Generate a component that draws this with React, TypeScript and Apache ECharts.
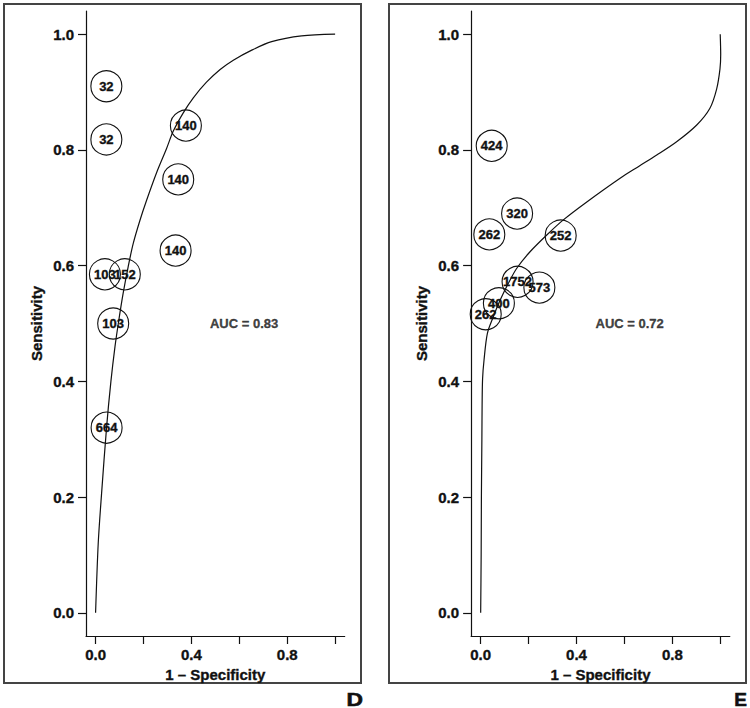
import React, { useEffect, useRef } from "react";
import * as echarts from "echarts";

// ROC curve (1 - specificity, sensitivity), panel D
const curveD: number[][] = [
  [0, 0], [0.011, 0.12], [0.025, 0.206], [0.046, 0.321], [0.064, 0.4], [0.081, 0.46],
  [0.096, 0.503], [0.115, 0.552], [0.136, 0.598], [0.157, 0.638], [0.185, 0.678],
  [0.213, 0.713], [0.255, 0.761], [0.296, 0.802], [0.324, 0.832], [0.366, 0.864],
  [0.408, 0.89], [0.463, 0.917], [0.52, 0.939], [0.575, 0.955], [0.65, 0.972],
  [0.735, 0.987], [0.86, 0.997], [1.0, 1.0],
];
// Study points: [1 - specificity, sensitivity, sample size], panel D
const studiesD: (number | string)[][] = [
  [0.045, 0.91, "32"], [0.045, 0.818, "32"], [0.377, 0.842, "140"], [0.345, 0.749, "140"],
  [0.334, 0.626, "140"], [0.039, 0.585, "103"], [0.122, 0.585, "152"], [0.0735, 0.5, "103"],
  [0.046, 0.32, "664"],
];
const aucD = { x: 0.62, y: 0.5, text: "AUC = 0.83" };

// ROC curve, panel E
const curveE: number[][] = [
  [0, 0], [0.002, 0.1], [0.003, 0.2], [0.005, 0.3], [0.006, 0.36], [0.008, 0.405],
  [0.014, 0.437], [0.028, 0.483], [0.053, 0.512], [0.081, 0.54], [0.115, 0.569],
  [0.15, 0.595], [0.206, 0.624], [0.276, 0.653], [0.345, 0.679], [0.443, 0.71],
  [0.582, 0.751], [0.658, 0.771], [0.735, 0.791], [0.818, 0.814], [0.902, 0.843],
  [0.957, 0.872], [0.985, 0.905], [0.999, 0.94], [1.002, 0.965], [1.0, 1.0],
];
const studiesE: (number | string)[][] = [
  [0.046, 0.807, "424"], [0.152, 0.69, "320"], [0.036, 0.654, "262"], [0.334, 0.652, "252"],
  [0.154, 0.572, "1752"], [0.245, 0.562, "573"], [0.076, 0.535, "400"], [0.021, 0.516, "262"],
];
const aucE = { x: 0.622, y: 0.5, text: "AUC = 0.72" };

const tickValues = [0, 0.2, 0.4, 0.6, 0.8, 1.0];
const xLabelValues = [0, 0.4, 0.8];
const xName = "1 \u2013 Specificity";
const yName = "Sensitivity";
const panelLetters = ["D", "E"];

const FONT = "'Liberation Sans', Arial, Helvetica, sans-serif";
const INK = "#111";
const heavy = { textBorderColor: INK, textBorderWidth: 0.35 };

export default function App() {
  const ref = useRef<HTMLDivElement>(null);
  useEffect(() => {
    if (!ref.current) return;
    const chart = echarts.init(ref.current, null, { renderer: "svg" });

    const grids = [
      { left: 86, top: 11, width: 258.7, height: 625 },
      { left: 471.1, top: 11, width: 258.7, height: 625 },
    ];

    const mkX = (gi: number) => ({
      type: "value",
      gridIndex: gi,
      min: -0.04,
      max: 1.04,
      name: xName,
      nameLocation: "middle",
      nameGap: 28,
      nameTextStyle: { fontFamily: FONT, fontWeight: "bold", fontSize: 15, color: INK, ...heavy },
      axisLine: { show: true, onZero: false, lineStyle: { color: INK, width: 1.2 } },
      axisTick: { show: true, inside: false, length: 8, customValues: tickValues, lineStyle: { color: INK, width: 1.2 } },
      axisLabel: {
        show: true,
        margin: 11,
        customValues: xLabelValues,
        formatter: (v: number) => v.toFixed(1),
        fontFamily: FONT, fontWeight: "bold", fontSize: 15, color: INK, ...heavy,
      },
      splitLine: { show: false },
    });
    const mkY = (gi: number) => ({
      type: "value",
      gridIndex: gi,
      min: -0.04,
      max: 1.04,
      name: yName,
      nameLocation: "middle",
      nameGap: 42,
      nameTextStyle: { fontFamily: FONT, fontWeight: "bold", fontSize: 15, color: INK, ...heavy },
      axisLine: { show: true, onZero: false, lineStyle: { color: INK, width: 1.2 } },
      axisTick: { show: true, inside: false, length: 8, customValues: tickValues, lineStyle: { color: INK, width: 1.2 } },
      axisLabel: {
        show: true,
        margin: 12,
        customValues: tickValues,
        formatter: (v: number) => v.toFixed(1),
        fontFamily: FONT, fontWeight: "bold", fontSize: 15, color: INK, ...heavy,
      },
      splitLine: { show: false },
    });

    const curveSeries = (gi: number, data: number[][]) => ({
      type: "line",
      xAxisIndex: gi,
      yAxisIndex: gi,
      data,
      showSymbol: false,
      symbol: "none",
      smooth: 0.3,
      lineStyle: { color: INK, width: 1.2 },
      silent: true,
      z: 3,
    });
    const studySeries = (gi: number, data: (number | string)[][]) => ({
      type: "scatter",
      xAxisIndex: gi,
      yAxisIndex: gi,
      data,
      symbol: "circle",
      symbolSize: 31,
      itemStyle: { color: "rgba(0,0,0,0)", borderColor: INK, borderWidth: 1.1, opacity: 1 },
      label: {
        show: true,
        position: "inside",
        formatter: (p: any) => String(p.value[2]),
        fontFamily: FONT, fontWeight: "bold", fontSize: 13, color: INK, ...heavy,
      },
      silent: true,
      z: 4,
    });
    const aucSeries = (gi: number, a: { x: number; y: number; text: string }) => ({
      type: "scatter",
      xAxisIndex: gi,
      yAxisIndex: gi,
      data: [[a.x, a.y]],
      symbolSize: 0,
      label: {
        show: true,
        position: "inside",
        formatter: a.text,
        fontFamily: FONT, fontWeight: "bold", fontSize: 13, color: INK, ...heavy,
      },
      silent: true,
    });

    chart.setOption({
      animation: false,
      backgroundColor: "#fff",
      grid: grids,
      xAxis: [mkX(0), mkX(1)],
      yAxis: [mkY(0), mkY(1)],
      series: [
        curveSeries(0, curveD),
        studySeries(0, studiesD),
        aucSeries(0, aucD),
        curveSeries(1, curveE),
        studySeries(1, studiesE),
        aucSeries(1, aucE),
      ],
      graphic: [
        {
          type: "rect",
          shape: { x: 4, y: 4, width: 357, height: 679 },
          style: { fill: "none", stroke: "#444", lineWidth: 2 },
          silent: true,
        },
        {
          type: "rect",
          shape: { x: 389, y: 4, width: 357, height: 679 },
          style: { fill: "none", stroke: "#444", lineWidth: 2 },
          silent: true,
        },
        {
          type: "text",
          x: 363,
          y: 699,
          scaleX: 1.2,
          style: {
            text: panelLetters[0], align: "right", verticalAlign: "middle",
            font: `bold 19px ${FONT}`, fill: INK, stroke: INK, lineWidth: 0.6,
          },
          silent: true,
        },
        {
          type: "text",
          x: 747,
          y: 699,
          style: {
            text: panelLetters[1], align: "right", verticalAlign: "middle",
            font: `bold 19px ${FONT}`, fill: INK, stroke: INK, lineWidth: 0.6,
          },
          silent: true,
        },
      ],
    });
    return () => chart.dispose();
  }, []);
  return (
    <div
      ref={ref}
      style={{ position: "absolute", left: 0, top: 0, width: 750, height: 708, background: "#fff" }}
    />
  );
}
